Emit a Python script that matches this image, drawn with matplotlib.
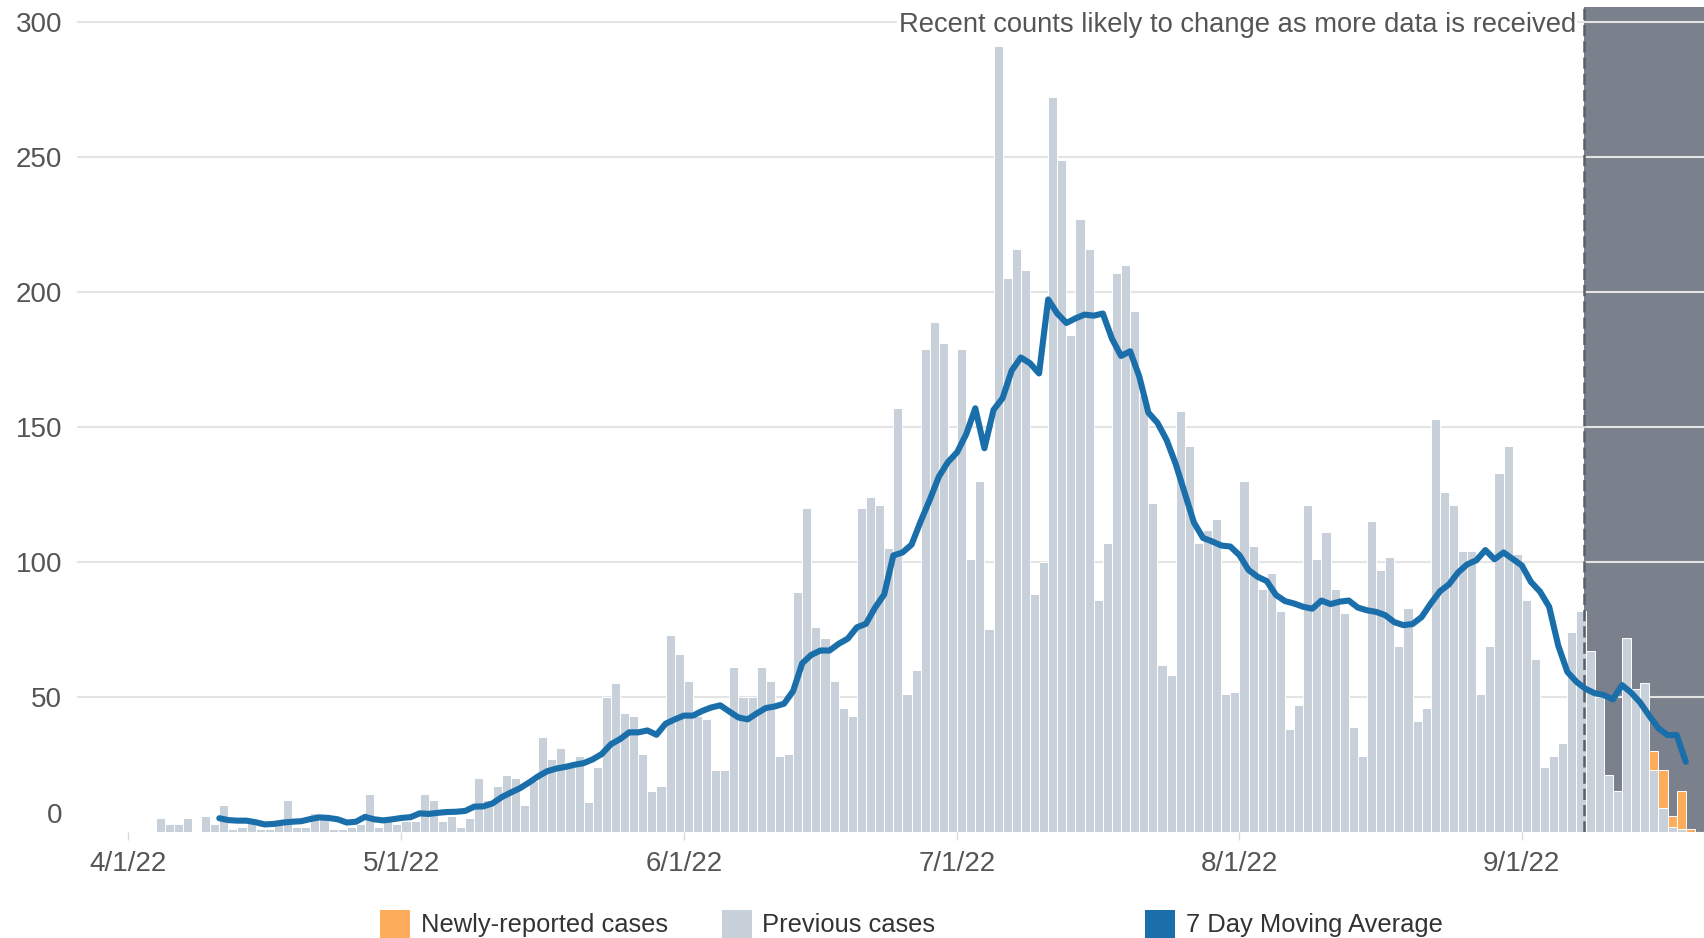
import matplotlib
matplotlib.use("Agg")
import matplotlib.pyplot as plt
import matplotlib.dates as mdates
from matplotlib.patches import Rectangle
import pandas as pd

# daily case counts, first bar is 4/4/22
bar_start = "2022-04-04"
prev_cases = [
    5, 3, 3, 5, 0, 6, 3, 10, 1, 2,
    4, 1, 1, 3, 12, 2, 2, 7, 6, 1,
    1, 2, 3, 14, 2, 4, 3, 4, 4, 14,
    12, 4, 6, 2, 5, 20, 12, 17, 21, 20,
    10, 19, 35, 27, 31, 25, 28, 11, 24, 50,
    55, 44, 43, 29, 15, 17, 73, 66, 56, 43,
    42, 23, 23, 61, 50, 50, 61, 56, 28, 29,
    89, 120, 76, 72, 56, 46, 43, 120, 124, 121,
    105, 157, 51, 60, 179, 189, 181, 139, 179, 101,
    130, 75, 291, 205, 216, 208, 88, 100, 272, 249,
    184, 227, 216, 86, 107, 207, 210, 193, 162, 122,
    62, 58, 156, 143, 107, 112, 116, 51, 52, 130,
    106, 90, 96, 82, 38, 47, 121, 101, 111, 90,
    81, 39, 28, 115, 97, 102, 69, 83, 41, 46,
    153, 126, 121, 104, 104, 51, 69, 133, 143, 103,
    86, 64, 24, 28, 33, 74, 82, 67, 50, 21,
    15, 72, 53, 55, 23, 9, 2, 1, 0,
]

new_dates = ["2022-09-15", "2022-09-16", "2022-09-17", "2022-09-18", "2022-09-19"]
new_cases = [7, 14, 4, 14, 1]

# 7 day moving average, first point is 4/11/22
avg_start = "2022-04-11"
avg_7day = [
    5.1, 4.4, 4.2, 4.2, 3.6, 2.8, 3.0, 3.5, 3.8, 4.0,
    4.8, 5.4, 5.2, 4.7, 3.5, 3.8, 5.6, 4.7, 4.3, 4.7,
    5.2, 5.5, 6.9, 6.7, 7.1, 7.4, 7.5, 7.8, 9.4, 9.5,
    10.6, 12.9, 14.6, 16.2, 18.3, 20.6, 22.5, 23.5, 24.1, 24.9,
    25.5, 26.9, 28.9, 32.5, 34.4, 36.9, 36.9, 37.6, 36.0, 40.1,
    41.7, 43.1, 43.1, 44.8, 46.1, 46.9, 44.6, 42.4, 41.7, 43.9,
    45.9, 46.5, 47.5, 52.2, 62.5, 65.6, 67.2, 67.2, 69.7, 71.6,
    75.8, 77.1, 83.1, 88.0, 102.4, 103.5, 106.4, 115.0, 123.0, 131.6,
    137.0, 140.6, 147.3, 156.9, 142.1, 156.3, 160.7, 170.9, 175.7, 173.6,
    169.8, 197.2, 192.0, 188.5, 190.2, 191.6, 191.2, 192.0, 182.7, 176.3,
    178.0, 168.7, 155.3, 151.5, 145.2, 136.3, 125.5, 114.6, 108.9, 107.6,
    106.1, 105.7, 102.5, 97.0, 94.5, 92.9, 87.8, 85.5, 84.6, 83.4,
    82.7, 85.7, 84.4, 85.3, 85.7, 83.1, 82.1, 81.5, 80.3, 77.7,
    76.6, 77.0, 79.6, 84.6, 89.1, 91.7, 96.1, 99.1, 100.6, 104.4,
    101.0, 103.5, 101.1, 98.7, 92.6, 89.0, 83.4, 69.0, 59.3, 55.6,
    53.0, 51.4, 50.7, 49.1, 54.4, 51.6, 47.9, 43.0, 38.4, 35.9,
    35.9, 26.0,
]

x_tick_dates = ["2022-04-01", "2022-05-01", "2022-06-01",
                "2022-07-01", "2022-08-01", "2022-09-01"]
x_tick_labels = ["4/1/22", "5/1/22", "6/1/22", "7/1/22", "8/1/22", "9/1/22"]
y_ticks = [0, 50, 100, 150, 200, 250, 300]
pending_start = "2022-09-08"
note = "Recent counts likely to change as more data is received"
legend_labels = ["Newly-reported cases", "Previous cases", "7 Day Moving Average"]

GRAY = "#c8d0da"
ORANGE = "#fdac5b"
BLUE = "#1a6faa"
BAND = "#7b818c"
TEXT = "#555555"


def main():
    plt.rcParams["font.family"] = ["Liberation Sans", "DejaVu Sans"]
    W, H = 1704, 938
    fig = plt.figure(figsize=(W / 100, H / 100), dpi=100)
    ax = fig.add_axes([76.5 / W, 1 - 832 / H, 1 - 76.5 / W, 825 / H])

    day0 = mdates.date2num(pd.Timestamp("2022-04-01"))
    bar_x = mdates.date2num(pd.date_range(bar_start, periods=len(prev_cases)))
    new_x = mdates.date2num(pd.to_datetime(new_dates))
    base = [prev_cases[int(round(x - bar_x[0]))] for x in new_x]
    avg_x = mdates.date2num(pd.date_range(avg_start, periods=len(avg_7day)))
    band_x = mdates.date2num(pd.Timestamp(pending_start)) - 0.2

    ax.set_xlim(day0 - 5.675, day0 + 173.0)
    ax.set_ylim(0, 305.5)

    ax.axvspan(band_x, day0 + 200, color=BAND, lw=0, zorder=0.2)
    for v in y_ticks[1:]:
        ax.axhline(v, color="#e4e4e4", lw=1.5, zorder=0.5)
    ax.axhline(0, color="#dddddd", lw=1, ls=(0, (1, 2)), zorder=0.5)

    ax.bar(bar_x, prev_cases, width=1, align="edge", color=GRAY,
           edgecolor="white", linewidth=0.7, zorder=2)
    ax.bar(new_x, new_cases, bottom=base, width=1, align="edge",
           color=ORANGE, edgecolor="white", linewidth=0.7, zorder=2)

    ax.axvline(band_x, color="#5b6067", lw=1.8, dashes=(4.5, 2), zorder=3)
    ax.plot(avg_x, avg_7day, color=BLUE, lw=4.4, solid_capstyle="round",
            solid_joinstyle="round", zorder=4)

    ax.annotate(note, xy=(band_x, 300), xytext=(-8, 0),
                textcoords="offset pixels", ha="right", va="center_baseline",
                fontsize=19.7, color=TEXT, zorder=5,
                bbox=dict(facecolor="white", edgecolor="none", pad=1))

    ax.set_xticks(mdates.date2num(pd.to_datetime(x_tick_dates)))
    ax.set_xticklabels(x_tick_labels)
    ax.tick_params(axis="x", length=5.8, width=1, color="#d9d9d9", pad=7.8,
                   labelsize=20, labelcolor=TEXT)
    ax.set_yticks([])
    for v in y_ticks:
        dy = 19 if v == 0 else 0
        ax.annotate(str(v), xy=(0, v), xycoords=("axes fraction", "data"),
                    xytext=(-14.5, dy), textcoords="offset pixels",
                    ha="right", va="center_baseline", fontsize=20, color=TEXT,
                    annotation_clip=False)
    for s in ax.spines.values():
        s.set_visible(False)

    # legend along the bottom edge
    for x, c, label in zip([380, 721.5, 1144.5], [ORANGE, GRAY, BLUE], legend_labels):
        fig.add_artist(Rectangle((x / W, -0.01), 30 / W, (H - 910) / H + 0.01,
                                 transform=fig.transFigure, facecolor=c, lw=0))
        fig.text((x + 41) / W, (H - 932) / H, label, fontsize=18.4,
                 color="#333333", va="baseline")

    fig.savefig("out.png", dpi=100)


if __name__ == "__main__":
    main()
